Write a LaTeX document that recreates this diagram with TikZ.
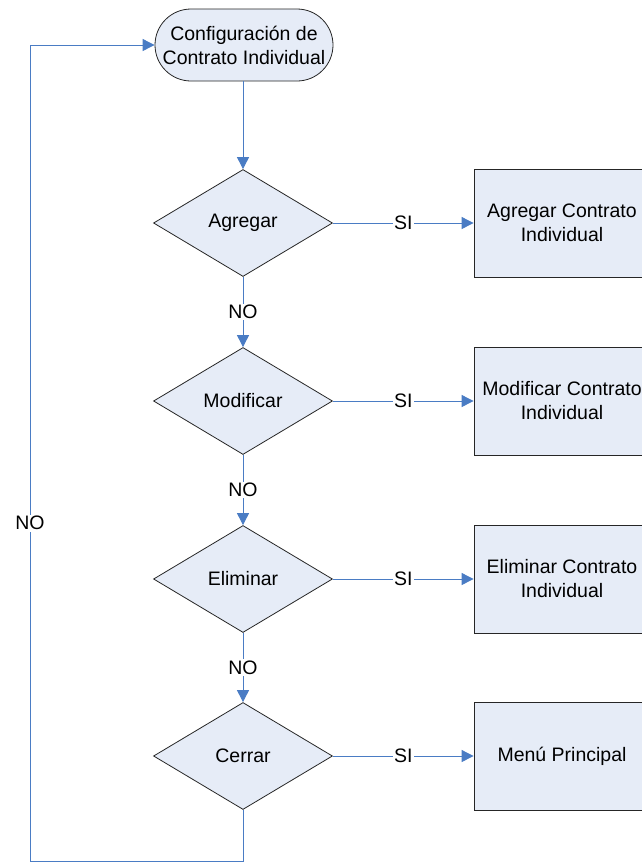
\documentclass[tikz,border=0pt]{standalone}
\usepackage{fontspec}
\setmainfont{Liberation Sans}
\usetikzlibrary{shapes.geometric,arrows.meta}
\definecolor{shapefill}{RGB}{230,236,247}
\definecolor{linkblue}{RGB}{74,124,196}
\begin{document}
\begin{tikzpicture}[x=1pt, y=-1pt, font=\fontsize{19.5}{24}\selectfont,
  terminal/.style={draw=black!85, fill=shapefill, line width=0.8pt, rounded corners=36pt, minimum width=178pt, minimum height=72pt, align=center, inner sep=0pt},
  decision/.style={draw=black!85, fill=shapefill, line width=0.8pt, diamond, aspect=1.67, minimum width=179pt, minimum height=107pt, inner sep=0pt},
  process/.style={draw=black!85, fill=shapefill, line width=0.8pt, minimum width=176pt, minimum height=108pt, align=center, inner sep=0pt},
  link/.style={draw=linkblue, line width=0.9pt, -{Triangle[length=12pt, width=12pt]}},
  lbl/.style={fill=white, inner sep=1.5pt}]
  \useasboundingbox (0,0) rectangle (642,863);
  \node[terminal] (config) at (244,45) {Configuración de\\Contrato Individual};
  \node[decision] (agregar) at (243,223) {Agregar};
  \node[decision] (modificar) at (243,401) {Modificar};
  \node[decision] (eliminar) at (243,579) {Eliminar};
  \node[decision] (cerrar) at (243,756) {Cerrar};
  \node[process] (addbox) at (562,223) {Agregar Contrato\\Individual};
  \node[process] (modbox) at (562,401) {Modificar Contrato\\Individual};
  \node[process] (delbox) at (562,579) {Eliminar Contrato\\Individual};
  \node[process] (menubox) at (562,756) {Menú Principal};
  % flujo principal
  \draw[link] (config.south -| agregar.north) -- (agregar.north);
  \draw[link] (agregar.south) -- node[lbl] {NO} (modificar.north);
  \draw[link] (modificar.south) -- node[lbl] {NO} (eliminar.north);
  \draw[link] (eliminar.south) -- node[lbl] {NO} (cerrar.north);
  \draw[link] (agregar.east) -- node[lbl] {SI} (addbox.west);
  \draw[link] (modificar.east) -- node[lbl] {SI} (modbox.west);
  \draw[link] (eliminar.east) -- node[lbl] {SI} (delbox.west);
  \draw[link] (cerrar.east) -- node[lbl] {SI} (menubox.west);
  % retorno
  \coordinate (loopbot) at (30,861);
  \draw[link] (cerrar.south) |- (loopbot) -- node[lbl, pos=0.414] {NO} (loopbot |- config.west) -- (config.west);
\end{tikzpicture}
\end{document}
